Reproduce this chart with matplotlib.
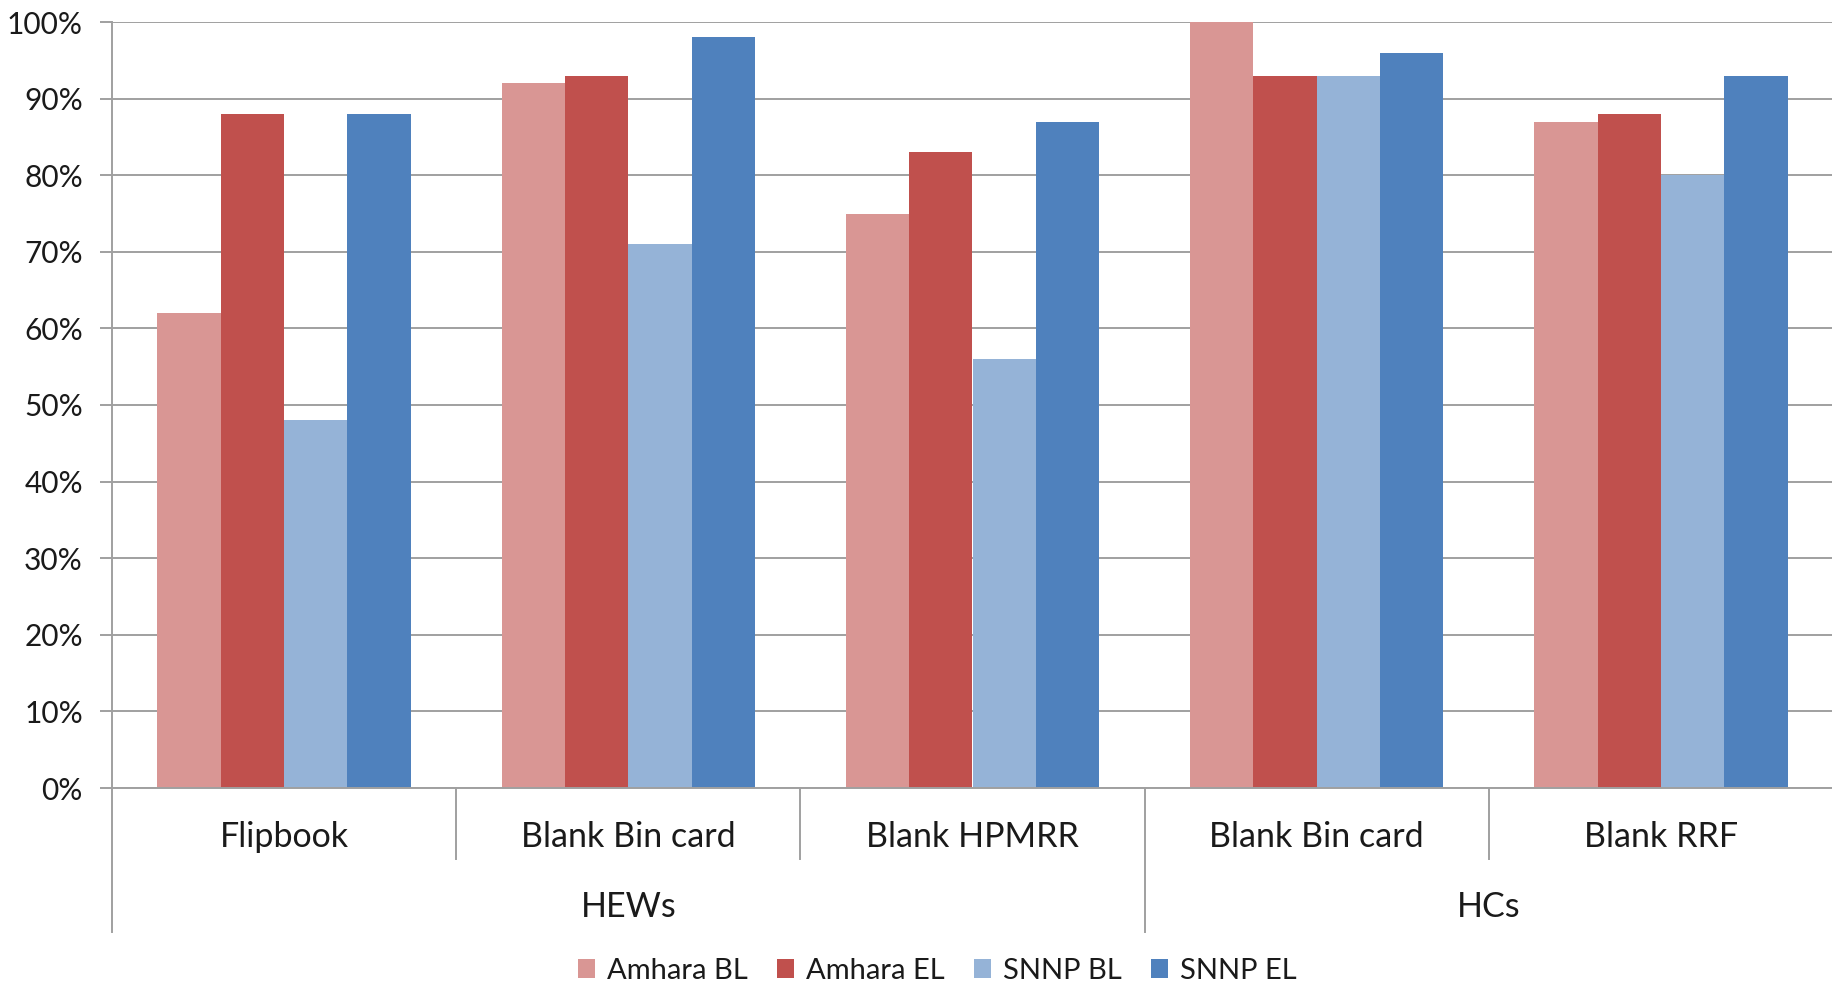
import matplotlib
matplotlib.use("Agg")
import matplotlib.pyplot as plt
from matplotlib.patches import Patch
import numpy as np

plt.rcParams['font.family'] = ['Lato', 'DejaVu Sans']

categories = ["Flipbook", "Blank Bin card", "Blank HPMRR", "Blank Bin card", "Blank RRF"]
groups = ["HEWs", "HCs"]
group_sizes = [3, 2]
series_names = ["Amhara BL", "Amhara EL", "SNNP BL", "SNNP EL"]
amhara_bl = [62, 92, 75, 100, 87]
amhara_el = [88, 93, 83, 93, 88]
snnp_bl = [48, 71, 56, 93, 80]
snnp_el = [88, 98, 87, 96, 93]
series_values = [amhara_bl, amhara_el, snnp_bl, snnp_el]
colors = ["#D99694", "#C0504D", "#95B3D7", "#4F81BD"]
yticks = [0, 10, 20, 30, 40, 50, 60, 70, 80, 90, 100]

W, H = 1833, 985
fig = plt.figure(figsize=(W / 100, H / 100), dpi=100)
left, right, top, bottom = 112, 1833, 22, 788
ax = fig.add_axes([left / W, 1 - bottom / H, (right - left) / W, (bottom - top) / H])

grid_color = "#A0A0A0"
x = np.arange(len(categories))
n = len(series_values)
bar_w = 0.184
for i, (vals, c) in enumerate(zip(series_values, colors)):
    ax.bar(x + (i - (n - 1) / 2) * bar_w, vals, width=bar_w, color=c, zorder=3)

ax.set_xlim(-0.5, len(categories) - 0.5)
ax.set_ylim(0, 100)
ax.set_yticks(yticks)
ax.set_yticklabels([f"{t}%" for t in yticks], fontsize=21.5, color="#1a1a1a")
ax.yaxis.grid(True, color=grid_color, linewidth=1.4, zorder=0)
ax.tick_params(axis="y", length=9, width=1.4, color=grid_color, pad=12)
ax.set_xticks([])

for s in ["top", "right", "bottom"]:
    ax.spines[s].set_visible(False)
ax.spines["left"].set_color(grid_color)
ax.spines["left"].set_linewidth(1.4)

# Multi-level category axis
trans = ax.get_xaxis_transform()
inner_depth = -(859 - bottom) / (bottom - top)
outer_depth = -(932 - bottom) / (bottom - top)
ax.plot([-0.5, len(categories) - 0.5], [0, 0], transform=trans, color=grid_color,
        linewidth=1.4, clip_on=False, zorder=4)
boundaries = np.cumsum(group_sizes)[:-1] - 0.5
for b in np.arange(0.5, len(categories) - 0.5):
    depth = outer_depth if b in boundaries else inner_depth
    ax.plot([b, b], [0, depth], transform=trans, color=grid_color, linewidth=1.4, clip_on=False)
ax.plot([-0.5, -0.5], [0, outer_depth], transform=trans, color=grid_color, linewidth=1.4, clip_on=False)

cat_y = -(837 - bottom) / (bottom - top)
grp_y = -(907 - bottom) / (bottom - top)
for xi, name in zip(x, categories):
    ax.text(xi, cat_y, name, transform=trans, ha="center", va="center", fontsize=24.5, color="#1a1a1a")
start = 0
for g, size in zip(groups, group_sizes):
    center = start + (size - 1) / 2
    ax.text(center, grp_y, g, transform=trans, ha="center", va="center", fontsize=24.5, color="#1a1a1a")
    start += size

handles = [Patch(facecolor=c, edgecolor="none") for c in colors]
fig.legend(handles, series_names, loc="center", bbox_to_anchor=(937 / W, 1 - 971 / H),
           ncol=4, frameon=False, fontsize=21, handlelength=0.6, handleheight=0.6,
           handletextpad=0.4, columnspacing=1.0, labelcolor="#1a1a1a")

fig.savefig("out.png", dpi=100)
